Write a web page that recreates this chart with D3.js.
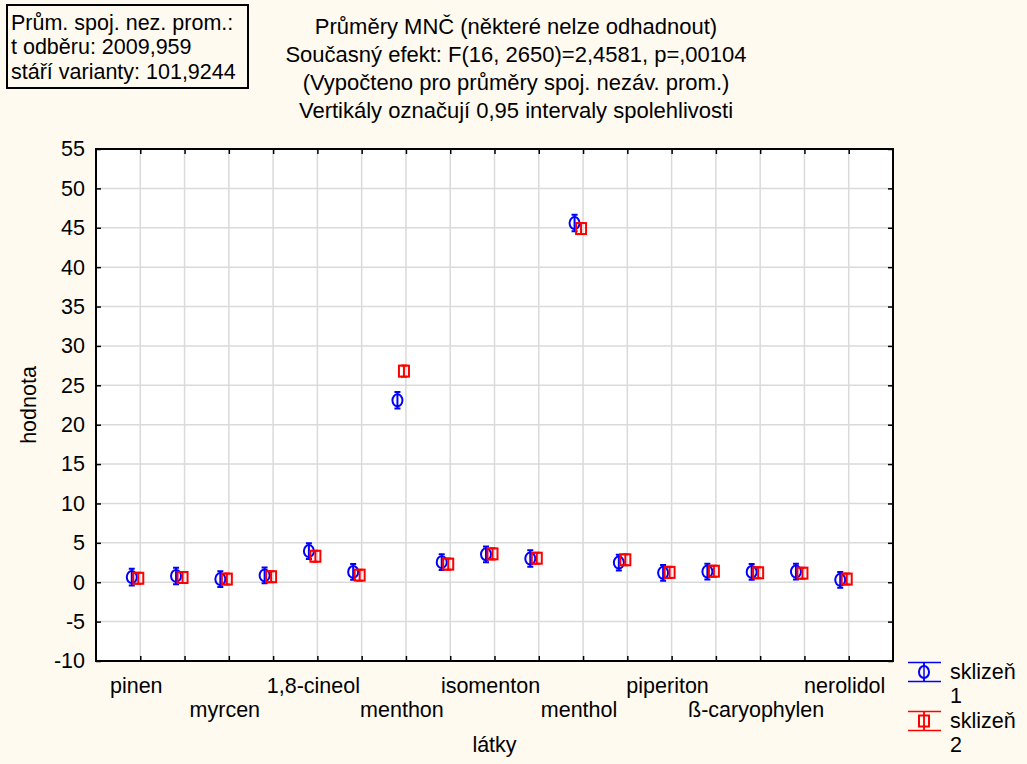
<!DOCTYPE html>
<html>
<head>
<meta charset="utf-8">
<script src="https://cdn.jsdelivr.net/npm/d3@7"></script>
<style>
  body { margin: 0; background: #fffaf0; }
  svg { display: block; font-family: "Liberation Sans", Arial, sans-serif; }
</style>
</head>
<body>
<div id="chart"></div>
<script>
// Popisky kategorií (zobrazuje se jen každá druhá)
const categories = ["pinen", "", "myrcen", "", "1,8-cineol", "", "menthon", "", "isomenton",
  "", "menthol", "", "piperiton", "", "ß-caryophylen", "", "nerolidol"];
const series = ["sklizeň 1", "sklizeň 2"];
// Průměry
const mean1 = [0.65, 0.8, 0.4, 0.87, 3.95, 1.3, 23.1, 2.55, 3.55, 3.0, 45.6, 2.5, 1.2, 1.35, 1.3, 1.35, 0.3];
const mean2 = [0.5, 0.6, 0.4, 0.7, 3.3, 0.9, 26.8, 2.3, 3.6, 3.05, 44.9, 2.85, 1.25, 1.4, 1.2, 1.15, 0.4];
// Polovina intervalu spolehlivosti
const ci1 = [1.05, 1.05, 1.0, 1.0, 1.0, 1.0, 1.05, 1.0, 1.0, 1.05, 1.05, 1.0, 1.0, 1.0, 1.0, 1.0, 1.0];
const ci2 = [0.7, 0.7, 0.7, 0.7, 0.7, 0.7, 0.7, 0.7, 0.7, 0.7, 0.7, 0.7, 0.7, 0.7, 0.7, 0.7, 0.7];
const yTicks = d3.range(-10, 56, 5);
const titleLines = [
  "Průměry MNČ (některé nelze odhadnout)",
  "Současný efekt: F(16, 2650)=2,4581, p=,00104",
  "(Vypočteno pro průměry spoj. nezáv. prom.)",
  "Vertikály označují 0,95 intervaly spolehlivosti"
];
const boxLines = ["Prům. spoj. nez. prom.:", "t odběru: 2009,959", "stáří varianty: 101,9244"];

const width = 1027, height = 764;
const pLeft = 96, pRight = 893, pTop = 149, pBottom = 661;
const blue = "#0000ff", red = "#ff0000";
const fs = 21.5;

const svg = d3.select("#chart").append("svg")
  .attr("width", width)
  .attr("height", height);

svg.append("rect").attr("width", width).attr("height", height).attr("fill", "#fffaf0");

const x = d3.scaleLinear().domain([0, categories.length + 1]).range([pLeft, pRight]);
const y = d3.scaleLinear().domain([-10, 55]).range([pBottom, pTop]);

// Plocha grafu
svg.append("rect")
  .attr("x", pLeft).attr("y", pTop)
  .attr("width", pRight - pLeft).attr("height", pBottom - pTop)
  .attr("fill", "#ffffff");

const catIdx = d3.range(1, categories.length + 1);

// Mřížka
svg.append("g").selectAll("line").data(catIdx).join("line")
  .attr("x1", d => x(d)).attr("x2", d => x(d))
  .attr("y1", pTop).attr("y2", pBottom)
  .attr("stroke", "#dadada").attr("stroke-width", 1.5);
svg.append("g").selectAll("line").data(yTicks.slice(1, -1)).join("line")
  .attr("x1", pLeft).attr("x2", pRight)
  .attr("y1", d => y(d)).attr("y2", d => y(d))
  .attr("stroke", "#dadada").attr("stroke-width", 1.5);

// Osy s dovnitř směřujícími značkami
const axisL = d3.axisLeft(y).tickValues(yTicks).tickSize(-5).tickPadding(11).tickFormat(d => String(d));
const axisR = d3.axisRight(y).tickValues(yTicks).tickSize(-5).tickFormat("");
const axisB = d3.axisBottom(x).tickValues(catIdx).tickSize(-5).tickFormat("");
const axisT = d3.axisTop(x).tickValues(catIdx).tickSize(-5).tickFormat("");

function styleAxis(g) {
  g.select(".domain").remove();
  g.selectAll(".tick line").attr("stroke", "#000").attr("stroke-width", 1.5);
  g.selectAll(".tick text").attr("font-size", fs).attr("fill", "#000")
    .attr("font-family", "Liberation Sans, Arial, sans-serif");
}
svg.append("g").attr("transform", `translate(${pLeft},0)`).call(axisL).call(styleAxis);
svg.append("g").attr("transform", `translate(${pRight},0)`).call(axisR).call(styleAxis);
svg.append("g").attr("transform", `translate(0,${pBottom})`).call(axisB).call(styleAxis);
svg.append("g").attr("transform", `translate(0,${pTop})`).call(axisT).call(styleAxis);

// Rámeček
svg.append("rect")
  .attr("x", pLeft).attr("y", pTop)
  .attr("width", pRight - pLeft).attr("height", pBottom - pTop)
  .attr("fill", "none").attr("stroke", "#000").attr("stroke-width", 2);

// Popisky kategorií ve dvou řadách
svg.append("g").selectAll("text").data(categories).join("text")
  .attr("x", (d, i) => x(i + 1) - 4)
  .attr("y", (d, i) => (i % 4 === 0 ? 693 : 717))
  .attr("text-anchor", "middle")
  .attr("font-size", fs)
  .text(d => d);

// Chybové úsečky + značky
const capW = 3;
function drawSeries(means, cis, offset, color, kind) {
  const g = svg.append("g");
  const pts = means.map((m, i) => ({ cx: x(i + 1) + offset, m, ci: cis[i] }));
  g.selectAll(".bar").data(pts).join("path")
    .attr("d", d => {
      const y0 = y(d.m - d.ci), y1 = y(d.m + d.ci);
      return `M${d.cx},${y0}V${y1}M${d.cx - capW},${y0}H${d.cx + capW}M${d.cx - capW},${y1}H${d.cx + capW}`;
    })
    .attr("stroke", color).attr("stroke-width", 2).attr("fill", "none");
  if (kind === "circle") {
    g.selectAll(".mk").data(pts).join("ellipse")
      .attr("cx", d => d.cx).attr("cy", d => y(d.m))
      .attr("rx", 5).attr("ry", 6)
      .attr("fill", "none").attr("stroke", color).attr("stroke-width", 2);
  } else {
    g.selectAll(".mk").data(pts).join("rect")
      .attr("x", d => d.cx - 5).attr("y", d => y(d.m) - 5.5)
      .attr("width", 10).attr("height", 11)
      .attr("fill", "none").attr("stroke", color).attr("stroke-width", 2);
  }
}
drawSeries(mean1, ci1, -8.5, blue, "circle");
drawSeries(mean2, ci2, -2, red, "square");

// Titulek
svg.append("g").selectAll("text").data(titleLines).join("text")
  .attr("x", 516).attr("y", (d, i) => 34 + i * 28)
  .attr("text-anchor", "middle").attr("font-size", 22)
  .text(d => d);

// Popisky os
svg.append("text")
  .attr("x", (pLeft + pRight) / 2).attr("y", 752)
  .attr("text-anchor", "middle").attr("font-size", fs)
  .text("látky");
svg.append("text")
  .attr("transform", `translate(36,${(pTop + pBottom) / 2}) rotate(-90)`)
  .attr("text-anchor", "middle").attr("font-size", fs)
  .text("hodnota");

// Rámeček s hodnotami kovariát
svg.append("rect")
  .attr("x", 7).attr("y", 5).attr("width", 241).attr("height", 83)
  .attr("fill", "#fffaf0").attr("stroke", "#000").attr("stroke-width", 2);
svg.append("g").selectAll("text").data(boxLines).join("text")
  .attr("x", 11).attr("y", (d, i) => 29.5 + i * 24.5)
  .attr("font-size", 21.5)
  .text(d => d);

// Legenda
const legend = svg.append("g");
series.forEach((s, i) => {
  const cy = 672 + i * 49, color = i === 0 ? blue : red;
  const g = legend.append("g");
  g.append("path")
    .attr("d", `M908,${cy - 9.5}H941M908,${cy + 9.5}H941M924,${cy - 9.5}V${cy + 9.5}`)
    .attr("stroke", color).attr("stroke-width", 1.5);
  if (i === 0) {
    g.append("ellipse").attr("cx", 924).attr("cy", cy).attr("rx", 5).attr("ry", 6)
      .attr("fill", "#fffaf0").attr("stroke", color).attr("stroke-width", 2);
  } else {
    g.append("rect").attr("x", 919).attr("y", cy - 5.5).attr("width", 10).attr("height", 11)
      .attr("fill", "none").attr("stroke", color).attr("stroke-width", 2);
  }
  g.append("line").attr("x1", 924).attr("x2", 924).attr("y1", cy - 9.5).attr("y2", cy + 9.5)
    .attr("stroke", color).attr("stroke-width", 1.5);
  const parts = s.split(" ");
  g.append("text").attr("x", 950).attr("y", cy + 7).attr("font-size", fs).text(parts[0]);
  g.append("text").attr("x", 950).attr("y", cy + 31).attr("font-size", fs).text(parts[1]);
});
</script>
</body>
</html>
